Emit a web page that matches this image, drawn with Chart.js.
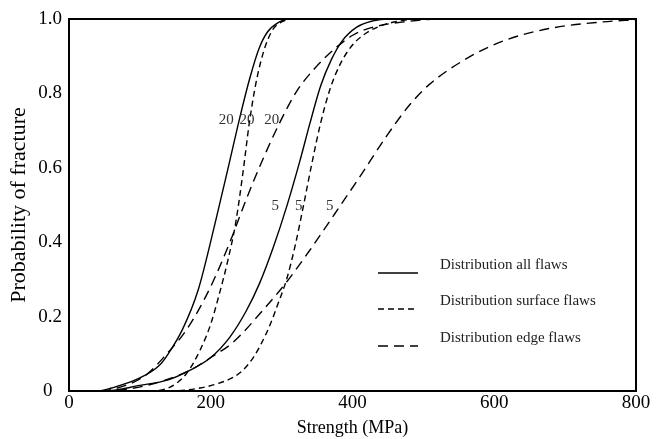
<!DOCTYPE html>
<html>
<head>
<meta charset="utf-8">
<script src="https://cdn.jsdelivr.net/npm/chart.js@4/dist/chart.umd.min.js"></script>
<style>
  html, body { margin: 0; padding: 0; background: #fff; }
  #wrap { width: 665px; height: 439px; }
</style>
</head>
<body>
<div id="wrap"><canvas id="fracture-chart"></canvas></div>
<script>
// strength (MPa) / probability pairs
const allFlaws20 = [[0,0],[40,0],[60,0.008],[100,0.035],[128,0.07],[140,0.1],[160,0.165],[182,0.27],[206,0.45],[227,0.62],[241,0.735],[255,0.84],[268,0.92],[280,0.965],[295,0.99],[310,1],[800,1]];
const surfaceFlaws20 = [[0,0],[110,0],[142,0.01],[165,0.045],[185,0.11],[200,0.18],[212,0.26],[224,0.35],[235,0.45],[246,0.595],[254,0.715],[264,0.83],[275,0.915],[287,0.97],[300,0.992],[315,1],[800,1]];
const edgeFlaws20 = [[0,0],[40,0],[80,0.015],[110,0.045],[138,0.1],[166,0.165],[199,0.277],[227,0.4],[250,0.515],[274,0.625],[297,0.72],[321,0.805],[349,0.872],[378,0.925],[401,0.957],[429,0.978],[476,0.993],[520,1],[800,1]];
const allFlaws5 = [[0,0],[50,0],[100,0.015],[140,0.03],[171,0.056],[200,0.09],[227,0.145],[250,0.215],[269,0.29],[288,0.385],[307,0.495],[326,0.62],[340,0.72],[355,0.82],[370,0.89],[385,0.94],[406,0.978],[429,0.995],[450,1],[800,1]];
const surfaceFlaws5 = [[0,0],[140,0],[185,0.008],[210,0.02],[230,0.035],[245,0.055],[260,0.09],[272,0.13],[283,0.175],[295,0.235],[307,0.3],[319,0.39],[331,0.5],[343,0.615],[355,0.72],[368,0.81],[383,0.88],[400,0.93],[420,0.963],[445,0.985],[475,0.997],[500,1],[800,1]];
const edgeFlaws5 = [[0,0],[60,0],[82,0.005],[120,0.02],[171,0.056],[200,0.09],[231,0.13],[274,0.218],[307,0.293],[340,0.379],[372,0.468],[410,0.575],[448,0.685],[481,0.77],[509,0.825],[565,0.898],[617,0.944],[682,0.976],[752,0.992],[800,0.998]];

const xTicks = [0, 200, 400, 600, 800];
const yTicks = [0, 0.2, 0.4, 0.6, 0.8, 1.0];

// flaw-size labels written next to the curves
const sizeLabels = ['20', '20', '20', '5', '5', '5'];
const sizeLabelStrength = [222, 251, 286, 291, 324, 368];
const sizeLabelProb = [0.728, 0.728, 0.728, 0.497, 0.497, 0.497];

const legendLabels = ['Distribution all flaws', 'Distribution surface flaws', 'Distribution edge flaws'];

const SERIF = "'Liberation Serif', 'DejaVu Serif', serif";
const SOLID = [];
const SHORT_DASH = [6, 4];
const LONG_DASH = [10, 6];

function toPoints(pairs) {
  return pairs.map(p => ({ x: p[0], y: p[1] }));
}

function curve(label, pairs, dash) {
  return {
    label: label,
    data: toPoints(pairs),
    borderColor: '#000',
    borderWidth: 1.4,
    borderDash: dash,
    pointRadius: 0,
    showLine: true,
    fill: false,
    cubicInterpolationMode: 'monotone',
    clip: 4
  };
}

const frame = {
  id: 'frame',
  afterDraw(chart) {
    const { ctx, chartArea: a, scales } = chart;
    ctx.save();
    ctx.strokeStyle = '#000';
    ctx.lineWidth = 2;
    ctx.strokeRect(a.left, a.top, a.right - a.left, a.bottom - a.top);

    // size labels
    ctx.font = '15px ' + SERIF;
    ctx.fillStyle = '#333';
    ctx.textAlign = 'center';
    ctx.textBaseline = 'middle';
    sizeLabels.forEach((t, i) => {
      ctx.fillText(t, scales.x.getPixelForValue(sizeLabelStrength[i]), scales.y.getPixelForValue(sizeLabelProb[i]));
    });

    // legend inside the plot
    const dashes = [SOLID, SHORT_DASH, LONG_DASH];
    const x0 = a.left + 309, x1 = a.left + 349, tx = a.left + 371;
    const rows = [a.top + 254, a.top + 290, a.top + 327];
    ctx.font = '15px ' + SERIF;
    ctx.textAlign = 'left';
    ctx.fillStyle = '#222';
    legendLabels.forEach((t, i) => {
      ctx.beginPath();
      ctx.setLineDash(dashes[i]);
      ctx.lineWidth = 1.6;
      ctx.moveTo(x0, rows[i]);
      ctx.lineTo(x1, rows[i]);
      ctx.stroke();
      ctx.fillText(t, tx, rows[i] - 8);
    });
    ctx.restore();
  }
};

new Chart(document.getElementById('fracture-chart'), {
  type: 'scatter',
  data: {
    datasets: [
      curve('all 20', allFlaws20, SOLID),
      curve('surface 20', surfaceFlaws20, SHORT_DASH),
      curve('edge 20', edgeFlaws20, LONG_DASH),
      curve('all 5', allFlaws5, SOLID),
      curve('surface 5', surfaceFlaws5, SHORT_DASH),
      curve('edge 5', edgeFlaws5, LONG_DASH)
    ]
  },
  options: {
    responsive: true,
    maintainAspectRatio: false,
    animation: false,
    layout: { padding: { top: 19, right: 29, left: 0, bottom: 0 } },
    plugins: {
      legend: { display: false },
      tooltip: { enabled: false }
    },
    scales: {
      x: {
        type: 'linear',
        min: 0,
        max: 800,
        afterBuildTicks: (scale) => { scale.ticks = xTicks.map(v => ({ value: v })); },
        afterFit: (scale) => { scale.height = 48; },
        grid: { display: false, drawTicks: false },
        border: { display: false },
        ticks: {
          color: '#000',
          padding: 1,
          font: { family: SERIF, size: 19 }
        },
        title: {
          display: true,
          text: 'Strength (MPa)',
          color: '#000',
          font: { family: SERIF, size: 18 },
          padding: { top: 0, bottom: 0 }
        }
      },
      y: {
        min: 0,
        max: 1,
        afterBuildTicks: (scale) => { scale.ticks = yTicks.map(v => ({ value: v })); },
        afterFit: (scale) => { scale.width = 69; },
        grid: { display: false, drawTicks: false },
        border: { display: false },
        ticks: {
          color: '#000',
          padding: 7,
          font: { family: SERIF, size: 19 },
          // the zero label sits a little further left in the original
          callback: (v) => v === 0 ? '0  ' : v.toFixed(1)
        },
        title: {
          display: true,
          text: 'Probability of fracture',
          color: '#000',
          font: { family: SERIF, size: 22 },
          padding: { top: 6, bottom: 0 }
        }
      }
    }
  },
  plugins: [frame]
});
</script>
</body>
</html>
